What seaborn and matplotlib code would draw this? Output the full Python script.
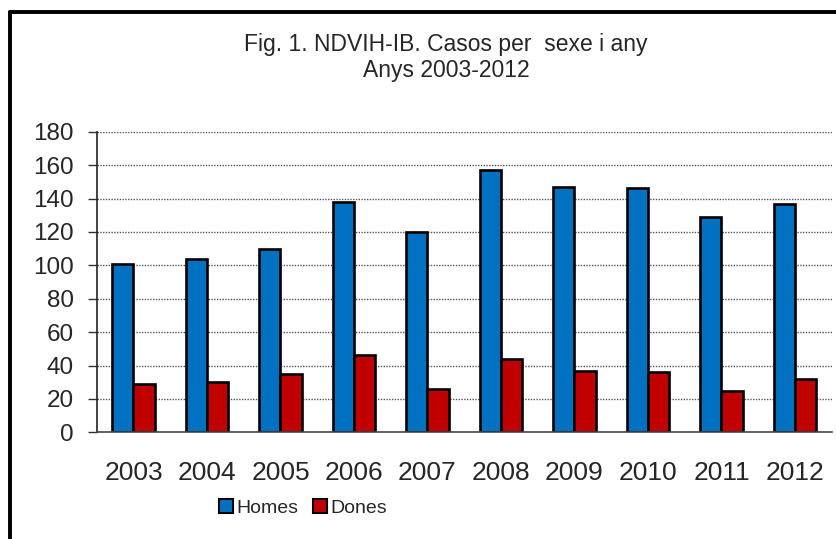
import matplotlib
matplotlib.use("Agg")
import matplotlib.pyplot as plt
import seaborn as sns
import pandas as pd
from matplotlib.lines import Line2D
from matplotlib.patches import Patch

years = ["2003", "2004", "2005", "2006", "2007", "2008", "2009", "2010", "2011", "2012"]
homes = [101, 104, 110, 138, 120, 157, 147, 146, 129, 137]
dones = [29, 30, 35, 46, 26, 44, 37, 36, 25, 32]
series = ["Homes", "Dones"]
colors = ["#0070C0", "#C00000"]
title_lines = ["Fig. 1. NDVIH-IB. Casos per  sexe i any", "Anys 2003-2012"]
yticks = list(range(0, 181, 20))

df = pd.DataFrame({
    "any": years * 2,
    "sexe": [series[0]] * len(years) + [series[1]] * len(years),
    "casos": homes + dones,
})

sns.set_style("white")
plt.rcParams["font.family"] = ["Liberation Sans", "DejaVu Sans"]

W, H = 836, 539
fig = plt.figure(figsize=(W / 100, H / 100), dpi=100)
ax = fig.add_axes([96.7 / W, 1 - 432.3 / H, (831.7 - 96.7) / W, (432.3 - 131.7) / H])

sns.barplot(data=df, x="any", y="casos", hue="sexe", hue_order=series,
            palette=colors, width=0.58, edgecolor="black", linewidth=1.9,
            saturation=1, ax=ax, legend=False)

ax.set_ylim(0, 180)
ax.set_xlim(-0.5, len(years) - 0.5)
ax.set_yticks(yticks)
ax.set_yticklabels([str(v) for v in yticks], fontsize=17.5)
ax.set_xlabel("")
ax.set_ylabel("")
ax.set_xticks(range(len(years)))
ax.set_xticklabels(years, fontsize=19)
ax.set_xticks([i - 0.5 for i in range(len(years) + 1)], minor=True)
ax.tick_params(axis="x", which="major", length=0, pad=21)
ax.tick_params(axis="x", which="minor", length=6.5, width=1, color="#333333", direction="out")
ax.tick_params(axis="y", which="major", length=6.5, width=1, color="#333333", direction="out", pad=10, left=True)

for v in yticks[1:]:
    ax.axhline(v, color="#555555", linestyle=(0, (1, 1)), linewidth=1.0, zorder=0)

for s in ["top", "right"]:
    ax.spines[s].set_visible(False)
ax.spines["left"].set_color("#222222")
ax.spines["bottom"].set_color("#444444")
ax.spines["left"].set_linewidth(1.2)
ax.spines["bottom"].set_linewidth(1.2)

# titles
fig.text(446 / W, 1 - 45 / H, title_lines[0], ha="center", va="center", fontsize=16.5,
         family=["Liberation Sans Narrow", "Liberation Sans", "DejaVu Sans"])
fig.text(446 / W, 1 - 70 / H, title_lines[1], ha="center", va="center", fontsize=16.5,
         family=["Liberation Sans Narrow", "Liberation Sans", "DejaVu Sans"])

# legend
handles = [Patch(facecolor=c, edgecolor="black", linewidth=1.5) for c in colors]
fig.legend(handles, series, loc="center", bbox_to_anchor=(303 / W, 1 - 508 / H),
           ncol=2, frameon=False, fontsize=14, handlelength=0.7, handleheight=0.7,
           handletextpad=0.15, columnspacing=0.8, borderpad=0)

# outer frame (left and top visible)
fig.add_artist(Line2D([10 / W, 10 / W], [0, 1 - 12 / H], color="black", linewidth=2.8,
                      transform=fig.transFigure))
fig.add_artist(Line2D([10 / W, 1], [1 - 12 / H, 1 - 12 / H], color="black", linewidth=2.8,
                      transform=fig.transFigure))

fig.savefig("out.png", dpi=100)
